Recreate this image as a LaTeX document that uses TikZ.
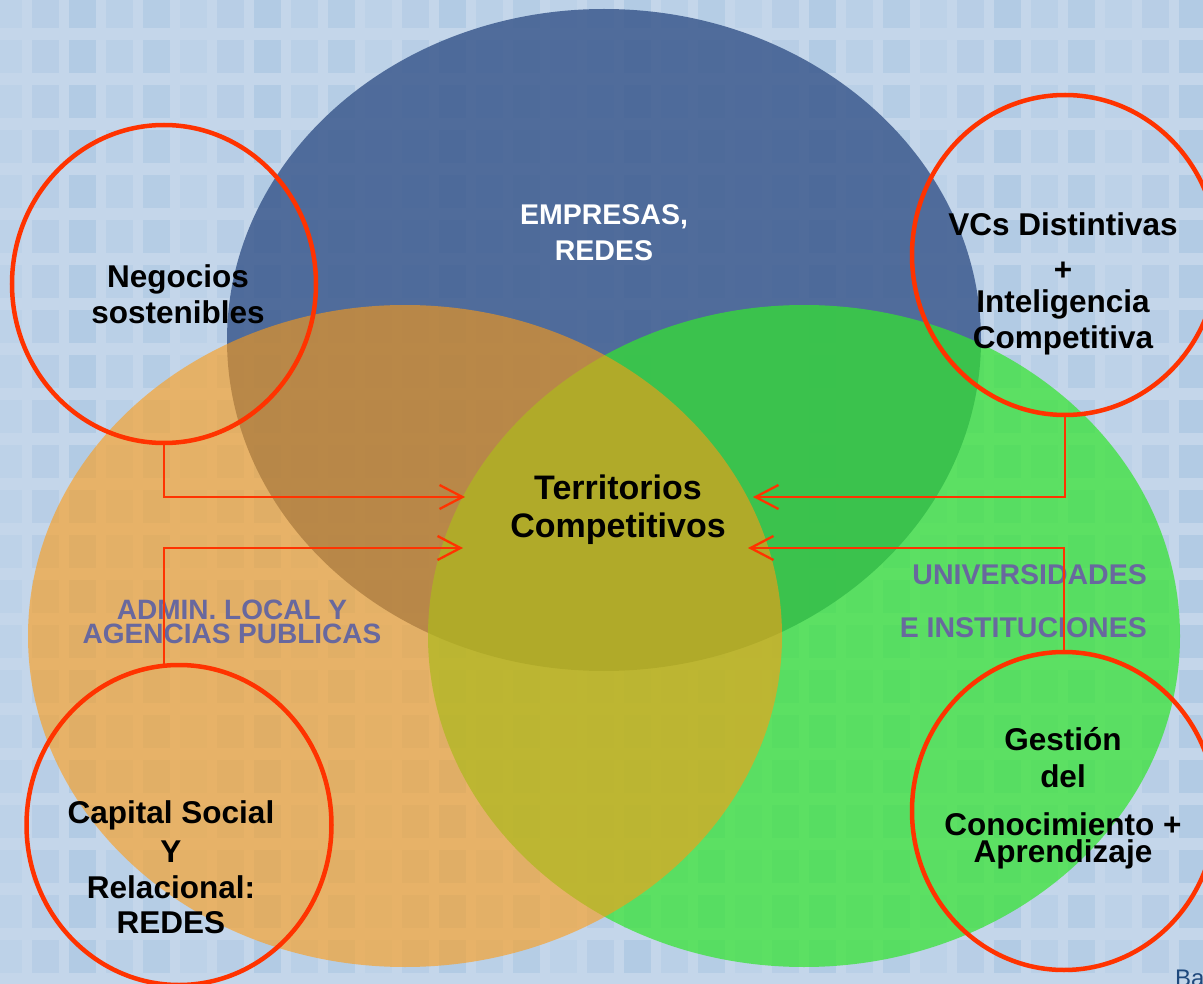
\documentclass[tikz,border=0pt]{standalone}
\usepackage{fontspec}
\setmainfont{Liberation Sans}
\usetikzlibrary{positioning,shapes.geometric,arrows.meta}
\definecolor{bgblue}{RGB}{196,214,234}
\definecolor{tileblue}{RGB}{176,202,228}
\definecolor{empblue}{RGB}{60,90,142}
\definecolor{uniGreen}{RGB}{52,228,48}
\definecolor{admOrange}{RGB}{255,155,18}
\definecolor{ringred}{RGB}{255,51,0}
\definecolor{sectorgray}{RGB}{104,104,158}
\definecolor{footblue}{RGB}{31,73,125}
\tikzset{>={Straight Barb[length=23pt,width=24pt]},
  ring/.style={ellipse,draw=ringred,line width=4.5pt,inner sep=0pt,outer sep=0pt},
  conn/.style={draw=ringred,line width=2.3pt,->},
  lbl/.style={align=center,inner sep=0pt,font=\bfseries\fontsize{31.5pt}{36pt}\selectfont},
  sector/.style={align=center,inner sep=0pt,text=sectorgray,font=\bfseries\fontsize{28pt}{24pt}\selectfont}}

\begin{document}
\begin{tikzpicture}[x=1pt,y=-1pt]
\useasboundingbox (0,0) rectangle (1203,984);
\clip (0,0) rectangle (1203,984);
\fill[bgblue] (0,0) rectangle (1203,984);
\foreach \i in {0,...,32}
  \foreach \j in {0,...,21} {
    \pgfmathsetmacro{\op}{0.3+0.15*mod(\i*7+\j*5,5)}
    \fill[tileblue,opacity=\op] (-5+37*\i,-5+45*\j) rectangle ++(27,33);
  }
\fill[empblue,fill opacity=.85] (604,340) ellipse [x radius=377pt, y radius=331pt];
\fill[uniGreen,fill opacity=.72] (804,636) ellipse [x radius=376pt, y radius=331pt];
\fill[admOrange,fill opacity=.6] (405,636) ellipse [x radius=377pt, y radius=331pt];
\node[align=center,inner sep=0pt,text=white,font=\bfseries\fontsize{28.5pt}{36pt}\selectfont] (empresas) at (604,233) {EMPRESAS,\\REDES};
\node[sector] (admin) at (232,622) {ADMIN. LOCAL Y\\AGENCIAS PUBLICAS};
\node[sector,align=right,anchor=east,font=\bfseries\fontsize{28.5pt}{53pt}\selectfont] (univ) at (1147,601) {UNIVERSIDADES\\E INSTITUCIONES};
\coordinate (tipNW) at (465,497);
\coordinate (tipSW) at (463,548);
\coordinate (tipNE) at (753,497);
\coordinate (tipSE) at (748,548);
\node[ring,minimum width=304pt,minimum height=318pt] (neg) at (164,284) {};
\node[ring,minimum width=306pt,minimum height=320pt] (vcs) at (1065,255) {};
\node[ring,minimum width=305pt,minimum height=320pt] (capital) at (179,825) {};
\node[ring,minimum width=304pt,minimum height=318pt] (gest) at (1064,811) {};
\draw[conn] (neg.south) |- (tipNW);
\draw[conn] (capital.north -| neg.south) |- (tipSW);
\draw[conn] (vcs.south) |- (tipNE);
\draw[conn] (gest.north) |- (tipSE);
\node[lbl,font=\bfseries\fontsize{34pt}{38pt}\selectfont] (terr) at (618,510) {Territorios\\Competitivos};
\node[lbl] (negtxt) at (178,294) {Negocios\\sostenibles};
\node[lbl,font=\bfseries\fontsize{31.5pt}{32pt}\selectfont] (vcstxt) at (1063,284) {VCs Distintivas\\[13pt]+\\Inteligencia\\[4pt]Competitiva};
\node[lbl,font=\bfseries\fontsize{31.5pt}{35pt}\selectfont] (captxt) at (171,867) {Capital Social\\[4pt]Y\\[1pt]Relacional:\\REDES};
\node[lbl,font=\bfseries\fontsize{31.5pt}{27pt}\selectfont] (gesttxt) at (1063,798) {Gesti\'on\\[10pt]del\\[21pt]Conocimiento +\\Aprendizaje};
\node[anchor=base west,inner sep=0pt,text=footblue,font=\fontsize{24pt}{24pt}\selectfont] (ba) at (1175,986) {Ba};
\end{tikzpicture}
\end{document}
